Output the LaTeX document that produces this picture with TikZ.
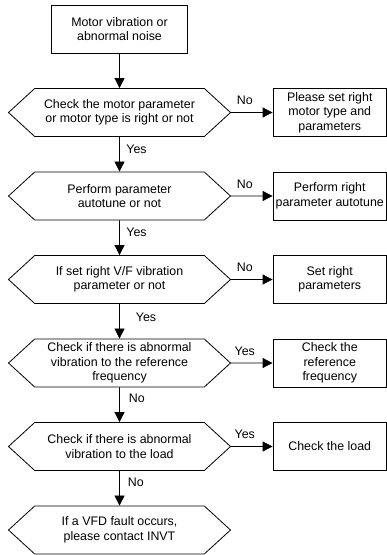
\documentclass[tikz,border=0pt]{standalone}
\usepackage{fontspec}
\setmainfont{Liberation Sans}
\usetikzlibrary{arrows.meta,shapes.symbols}
\newcommand{\flowfont}{\fontsize{12.4}{14.5}\selectfont}

\begin{document}
\begin{tikzpicture}[x=1pt,y=-1pt,
   box/.style={draw,line width=0.8pt,minimum height=48pt,inner xsep=1pt,align=center,font=\flowfont},
   side/.style={box,minimum width=113.5pt},
   decide/.style={draw,line width=0.8pt,signal,signal to=west and east,signal pointer angle=85,
               minimum width=222pt,minimum height=48pt,inner xsep=1pt,align=center,font=\flowfont},
   lbl/.style={font=\flowfont,inner sep=1pt},
   arr/.style={-{Triangle[length=10pt,width=10pt]},line width=0.8pt}]
  \useasboundingbox (0,0) rectangle (387,555);
  \node[box,minimum width=136pt] (start) at (119.5,29) {Motor vibration or\\ abnormal noise};
  \node[decide] (q1) at (119.5,112.5) {Check the motor parameter\\ or motor type is right or not};
  \node[decide] (q2) at (119.5,196) {Perform parameter\\ autotune or not};
  \node[decide] (q3) at (119.5,279.5) {If set right V/F vibration\\ parameter or not};
  \node[decide] (q4) at (119.5,363) {Check if there is abnormal\\ vibration to the reference\\ frequency};
  \node[decide] (q5) at (119.5,446.5) {Check if there is abnormal\\ vibration to the load};
  \node[decide] (q6) at (119.5,530) {If a VFD fault occurs,\\ please contact INVT};
  \node[side] (a1) at (329.75,112.5) {Please set right\\ motor type and\\ parameters};
  \node[side] (a2) at (329.75,196) {Perform right\\ parameter autotune};
  \node[side] (a3) at (329.75,279.5) {Set right\\ parameters};
  \node[side] (a4) at (329.75,363) {Check the\\ reference\\ frequency};
  \node[side] (a5) at (329.75,446.5) {Check the load};
  \draw[arr] (start) -- (q1);
  \draw[arr] (q1) -- node[lbl,right,pos=0.35,xshift=5.5pt]{Yes} (q2);
  \draw[arr] (q2) -- node[lbl,right,pos=0.35,xshift=5.5pt]{Yes} (q3);
  \draw[arr] (q3) -- node[lbl,right,pos=0.4,xshift=15pt]{Yes} (q4);
  \draw[arr] (q4) -- node[lbl,right,pos=0.3,xshift=8pt]{No} (q5);
  \draw[arr] (q5) -- node[lbl,right,pos=0.33,xshift=7pt]{No} (q6);
  \draw[arr] (q1) -- node[lbl,pos=0.33,anchor=base,yshift=8pt]{No} (a1);
  \draw[arr] (q2) -- node[lbl,pos=0.33,anchor=base,yshift=8pt]{No} (a2);
  \draw[arr] (q3) -- node[lbl,pos=0.33,anchor=base,yshift=8pt]{No} (a3);
  \draw[arr] (q4) -- node[lbl,pos=0.33,anchor=base,yshift=8pt]{Yes} (a4);
  \draw[arr] (q5) -- node[lbl,pos=0.33,anchor=base,yshift=8pt]{Yes} (a5);
\end{tikzpicture}
\end{document}
